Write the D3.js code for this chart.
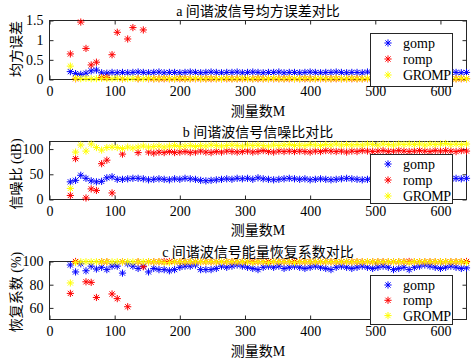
<!DOCTYPE html>
<html lang="zh">
<head>
<meta charset="UTF-8">
<title>间谐波信号对比</title>
<style>
  body { margin: 0; background: #fff; }
  svg { display: block; font-family: "Liberation Serif", "Noto Sans CJK SC", serif; }
</style>
<script src="https://d3js.org/d3.v7.min.js"></script>
</head>
<body>
<svg id="chart" width="474" height="361"></svg>
<script>
// measurement counts M (x axis)
const M = [
  32, 40, 48, 56, 64, 72, 80, 88, 96, 104, 112,
  120, 128, 136, 144, 152, 160, 168, 176, 184, 192, 200,
  208, 216, 224, 232, 240, 248, 256, 264, 272, 280, 288,
  296, 304, 312, 320, 328, 336, 344, 352, 360, 368, 376,
  384, 392, 400, 408, 416, 424, 432, 440, 448, 456, 464,
  472, 480, 488, 496, 504, 512, 520, 528, 536, 544, 552,
  560, 568, 576, 584, 592, 600, 608, 616, 624, 632, 640
];
const seriesNames = ['gomp', 'romp', 'GROMP'];
const xTicks = [0, 100, 200, 300, 400, 500, 600];

// a: mean square error
const gompMse = [
  0.20, 0.15, 0.13, 0.16, 0.22, 0.24, 0.17, 0.16, 0.18, 0.17, 0.18,
  0.17, 0.18, 0.19, 0.18, 0.17, 0.18, 0.19, 0.17, 0.18, 0.18, 0.17,
  0.18, 0.19, 0.18, 0.17, 0.18, 0.19, 0.18, 0.17, 0.18, 0.18, 0.19,
  0.17, 0.18, 0.19, 0.18, 0.17, 0.18, 0.18, 0.19, 0.17, 0.18, 0.18,
  0.17, 0.18, 0.19, 0.18, 0.17, 0.18, 0.18, 0.19, 0.18, 0.17, 0.18,
  0.18, 0.17, 0.19, 0.18, 0.18, 0.17, 0.18, 0.19, 0.18, 0.17, 0.18,
  0.18, 0.19, 0.17, 0.18, 0.18, 0.17, 0.18, 0.19, 0.18, 0.17, 0.18
];
const rompMse = [
  0.65, 0.02, 1.46, 0.79, 0.37, 0.44, 0.05, 0.05, 0.63, 1.20, 0.02,
  1.03, 1.32, 0.02, 1.26, 0.02, 0.02, 0.02, 0.02, 0.02, 0.02, 0.02,
  0.02, 0.02, 0.02, 0.02, 0.02, 0.02, 0.02, 0.02, 0.02, 0.02, 0.02,
  0.02, 0.02, 0.02, 0.02, 0.02, 0.02, 0.02, 0.02, 0.02, 0.02, 0.02,
  0.02, 0.02, 0.02, 0.02, 0.02, 0.02, 0.02, 0.02, 0.02, 0.02, 0.02,
  0.02, 0.02, 0.02, 0.02, 0.02, 0.02, 0.02, 0.02, 0.02, 0.02, 0.02,
  0.02, 0.02, 0.02, 0.02, 0.02, 0.02, 0.02, 0.02, 0.02, 0.02, 0.02
];
const grompMse = [
  0.34, 0.03, 0.02, 0.03, 0.02, 0.02, 0.03, 0.02, 0.02, 0.03, 0.02,
  0.02, 0.03, 0.02, 0.02, 0.03, 0.02, 0.02, 0.03, 0.02, 0.02, 0.03,
  0.02, 0.02, 0.03, 0.02, 0.02, 0.03, 0.02, 0.02, 0.03, 0.02, 0.02,
  0.03, 0.02, 0.02, 0.03, 0.02, 0.02, 0.03, 0.02, 0.02, 0.03, 0.02,
  0.02, 0.03, 0.02, 0.02, 0.03, 0.02, 0.02, 0.03, 0.02, 0.02, 0.03,
  0.02, 0.02, 0.03, 0.02, 0.02, 0.03, 0.02, 0.02, 0.03, 0.02, 0.02,
  0.03, 0.02, 0.02, 0.03, 0.02, 0.02, 0.03, 0.02, 0.02, 0.03, 0.02
];

// b: signal to noise ratio (dB), null = outside the axes
const gompSnr = [
  35, 38, 48, 42, 37, 35, 36, 43, 45, 40, 40,
  41, 42, 42, 41, 39, 40, 41, 40, 39, 41, 40,
  42, 41, 40, 38, 37, 38, 39, 40, 41, 40, 42,
  41, 42, 40, 43, 41, 40, 39, 40, 41, 42, 41,
  40, 41, 39, 40, 41, 40, 39, 40, 41, 42, 41,
  40, 39, 40, 41, 42, 41, 40, 39, 38, 39, 40,
  41, 40, 41, 42, 40, 39, 40, 41, 42, 41, 42
];
const rompSnr = [
  8, 81, null, 3, 21, 18, 71, 78, 13, null, 90,
  null, null, 93, null, 94, 92, 94, 93, 95, 93, 94,
  95, 93, 94, 96, 94, 93, 95, 94, 96, 95, 94,
  95, 96, 94, 95, 97, 95, 94, 96, 95, 96, 95,
  96, 95, 94, 96, 95, 97, 96, 95, 96, 94, 96,
  95, 97, 96, 95, 96, 97, 95, 96, 97, 96, 95,
  96, 97, 96, 95, 97, 96, 97, 96, 95, 97, 96
];
const grompSnr = [
  22, 94, 108, 96, 110, 103, 98, 103, 104, 103, 101,
  104, 102, 104, 106, 104, 105, 106, 104, 106, 107, 105,
  106, 107, 105, 107, 106, 108, 107, 106, 107, 108, 107,
  106, 108, 107, 108, 107, 106, 108, 107, 108, 109, 107,
  108, 107, 109, 108, 107, 109, 108, 110, 108, 109, 108,
  109, 108, 110, 109, 108, 110, 109, 108, 110, 109, 110,
  109, 110, 108, 110, 109, 110, 111, 109, 110, 109, 110
];

// c: energy recovery coefficient (%), null = outside the axes
const gompRec = [
  97, 91, 98, 92, 96, 93.5, 95, 93, 96, 96, 90,
  98, 96, 94, 96, 91, 94, 93, 93, 92, 93, 95,
  96, 96, 97, 93, 93, 93, 94, 96, 95, 96, 97,
  96, 95, 94, 93, 95, 96, 95, 96, 94, 95, 96,
  95, 94, 95, 96, 95, 94, 93, 95, 96, 95, 94,
  95, 96, 95, 94, 95, 96, 95, 93, 94, 95, 93,
  95, 96, 97, 96, 95, 94, 95, 96, 95, 94, 94.5
];
const rompRec = [
  72.5, 100, null, 82.5, 82, 69, 99.8, 99.8, 72, 68, 99.8,
  61, null, 99.8, 95.5, 99.8, 99.8, 99.8, 100, 100, 99.8, 99.8,
  99.8, 99.8, 99.8, 99.8, 99.8, 99.8, 99.8, 99.8, 99.8, 99.8, 99.8,
  99.8, 99.8, 100, 99.8, 99.8, 100, 99.8, 99.8, 99.8, 99.8, 100,
  99.8, 99.8, 99.8, 99.8, 99.8, 99.8, 99.8, 99.8, 99.8, 99.8, 99.8,
  99.8, 99.8, 99.8, 99.8, 99.8, 99.8, 99.8, 99.8, 99.8, 99.8, 100,
  99.8, 99.8, 99.8, 99.8, 99.8, 99.8, 99.8, 99.8, 99.8, 99.8, 100
];
const grompRec = [
  81.5, 99.0, 99.7, 99.8, 99.7, 99.8, 99.7, 99.8, 99.7, 99.8, 99.7,
  99.8, 99.7, 99.8, 99.7, 99.8, 99.7, 99.8, 99.0, 99.0, 99.7, 99.8,
  99.7, 99.8, 99.7, 99.8, 99.7, 99.8, 99.7, 99.8, 99.7, 99.8, 99.7,
  99.8, 99.7, 99.0, 99.8, 99.7, 99.0, 99.8, 99.7, 99.8, 99.7, 99.0,
  99.7, 99.8, 99.7, 99.8, 99.7, 99.8, 99.7, 99.8, 99.7, 99.8, 99.7,
  99.8, 99.7, 99.8, 99.7, 99.8, 99.7, 99.8, 99.7, 99.8, 99.7, 99.0,
  99.8, 99.7, 99.8, 99.7, 99.8, 99.7, 99.8, 99.7, 99.8, 99.7, 99.0
];

const titles = ['a 间谐波信号均方误差对比', 'b 间谐波信号信噪比对比', 'c 间谐波信号能量恢复系数对比'];
const yLabels = ['均方误差', '信噪比 (dB)', '恢复系数 (%)'];
const xLabel = '测量数M';

const colors = ['#0000ff', '#ff0000', '#ffff00'];
const axisColor = '#262626';

const panels = [
  { title: titles[0], ylabel: yLabels[0], data: [gompMse, rompMse, grompMse],
    yDomain: [0, 1.5], yTicks: [0, 0.5, 1, 1.5], top: 20.5, bottom: 79.5,
    titleY: 11, xlabelY: 111, ylabelY: 49, legendTop: 33.5, legendBottom: 86.5, legendStep: 16 },
  { title: titles[1], ylabel: yLabels[1], data: [gompSnr, rompSnr, grompSnr],
    yDomain: [0, 115], yTicks: [0, 50, 100], top: 141.5, bottom: 199.5,
    titleY: 132, xlabelY: 230, ylabelY: 174, legendTop: 154.5, legendBottom: 203.5, legendStep: 16 },
  { title: titles[2], ylabel: yLabels[2], data: [gompRec, rompRec, grompRec],
    yDomain: [50, 100], yTicks: [60, 80, 100], top: 261.5, bottom: 319.5,
    titleY: 252, xlabelY: 351, ylabelY: 292, legendTop: 275.5, legendBottom: 324.5, legendStep: 15.3 }
];

const svg = d3.select('#chart');
const x = d3.scaleLinear().domain([0, 640]).range([49.5, 466.5]);
const legendLeft = 370.5, legendRight = 452.5;

// MATLAB style '*' marker
function star(r) {
  const d = r * 0.72;
  return `M${-r},0H${r}M0,${-r}V${r}M${-d},${-d}L${d},${d}M${-d},${d}L${d},${-d}`;
}

panels.forEach(p => {
  const y = d3.scaleLinear().domain(p.yDomain).range([p.bottom, p.top]);
  const g = svg.append('g');

  // ticks on all four sides, pointing inward
  const styleAxis = sel => {
    sel.select('.domain').remove();
    sel.selectAll('.tick line').attr('stroke', axisColor);
    sel.selectAll('text').attr('fill', '#000').style('font-size', '14px').style('font-family', 'Liberation Serif');
  };
  g.append('g').attr('transform', `translate(0,${p.bottom})`)
    .call(d3.axisBottom(x).tickValues(xTicks).tickSize(-4).tickPadding(7))
    .call(styleAxis);
  g.append('g').attr('transform', `translate(0,${p.top})`)
    .call(d3.axisTop(x).tickValues(xTicks).tickSize(-4).tickFormat(''))
    .call(styleAxis);
  g.append('g').attr('transform', `translate(${x.range()[0]},0)`)
    .call(d3.axisLeft(y).tickValues(p.yTicks).tickSize(-4).tickPadding(6).tickFormat(d3.format('~g')))
    .call(styleAxis);
  g.append('g').attr('transform', `translate(${x.range()[1]},0)`)
    .call(d3.axisRight(y).tickValues(p.yTicks).tickSize(-4).tickFormat(''))
    .call(styleAxis);

  g.append('rect')
    .attr('x', x.range()[0]).attr('y', p.top)
    .attr('width', x.range()[1] - x.range()[0]).attr('height', p.bottom - p.top)
    .attr('fill', 'none').attr('stroke', axisColor);

  // series markers
  p.data.forEach((vals, si) => {
    const pts = vals.map((v, i) => ({ m: M[i], v }))
      .filter(d => d.v != null && d.v >= p.yDomain[0] && d.v <= p.yDomain[1]);
    g.append('g').selectAll('path').data(pts).enter().append('path')
      .attr('transform', d => `translate(${x(d.m)},${y(d.v)})`)
      .attr('d', star(3.6))
      .attr('stroke', colors[si]).attr('stroke-width', 1).attr('fill', 'none');
  });

  // labels
  g.append('text').attr('x', (x.range()[0] + x.range()[1]) / 2).attr('y', p.titleY)
    .attr('dy', '0.35em').attr('text-anchor', 'middle').style('font-size', '14px').text(p.title);
  g.append('text').attr('x', (x.range()[0] + x.range()[1]) / 2).attr('y', p.xlabelY)
    .attr('dy', '0.35em').attr('text-anchor', 'middle').style('font-size', '14px').text(xLabel);
  g.append('text')
    .attr('transform', `translate(16,${p.ylabelY}) rotate(-90)`)
    .attr('dy', '0.35em').attr('text-anchor', 'middle').style('font-size', '14px').text(p.ylabel);

  // legend
  const lg = g.append('g');
  lg.append('rect')
    .attr('x', legendLeft).attr('y', p.legendTop)
    .attr('width', legendRight - legendLeft).attr('height', p.legendBottom - p.legendTop)
    .attr('fill', '#fff').attr('stroke', axisColor);
  seriesNames.forEach((name, si) => {
    const ly = p.legendTop + 9.5 + si * p.legendStep;
    lg.append('path').attr('transform', `translate(388,${ly})`)
      .attr('d', star(3.6)).attr('stroke', colors[si]).attr('stroke-width', 1).attr('fill', 'none');
    lg.append('text').attr('x', 403).attr('y', ly).attr('dy', '0.35em')
      .style('font-size', '14px').style('font-family', 'Liberation Serif')
      .attr('textLength', name === 'GROMP' ? 48 : null)
      .text(name);
  });
});
</script>
</body>
</html>
